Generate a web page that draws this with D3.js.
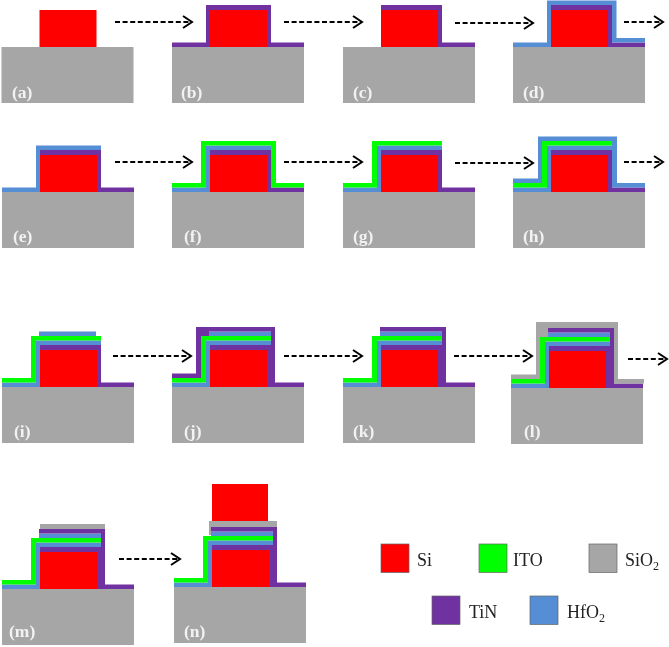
<!DOCTYPE html>
<meta charset="utf-8">
<head>
<style type='text/css'>
  html, body {
    margin: 0;
    background: #fff;
  }
  svg {
    display: block;
  }
  .panel-label {
    font-family: 'Liberation Serif';
    font-weight: bold;
    font-size: 17.5px;
    fill: #f2f2f2;
  }
  .legend-label {
    font-family: 'Liberation Serif';
    font-size: 18px;
    fill: #222;
  }
</style>
</head>
<body>
<div id="chart"></div>
<script src="https://d3js.org/d3.v7.min.js"></script>
<script>
// process steps, one entry per panel
var stepLabels = ["(a)", "(b)", "(c)", "(d)", "(e)", "(f)", "(g)", "(h)", "(i)", "(j)", "(k)", "(l)", "(m)", "(n)"];

// film outlines, [along the wafer, height above the wafer]
var substrate = [[-38, 0], [94, 0], [94, -56], [-38, -56]];
var pillar = [[0, 0], [57, 0], [57, 37], [0, 37]];
var tinConformal = [[-38, 0], [0, 0], [0, 37], [57, 37], [57, 0], [94, 0], [94, 4.5], [61, 4.5], [61, 42], [-4, 42], [-4, 4.5], [-38, 4.5]];
var tinLower = [[0, 37], [57, 37], [57, 0], [94, 0], [94, 4.5], [61, 4.5], [61, 42], [0, 42]];
var hfoConformal = [[-38, 0], [0, 0], [0, 42], [61, 42], [61, 4.5], [94, 4.5], [94, 9], [65.5, 9], [65.5, 46.5], [-4, 46.5], [-4, 4.5], [-38, 4.5]];
var hfoLower = [[-38, 0], [0, 0], [0, 42], [61, 42], [61, 46.5], [-4, 46.5], [-4, 4.5], [-38, 4.5]];
var itoConformal = [[-38, 4.5], [-4, 4.5], [-4, 46.5], [61, 46.5], [61, 4.5], [94, 4.5], [94, 9], [66, 9], [66, 51], [-9, 51], [-9, 9], [-38, 9]];
var itoEtched = [[-38, 4.5], [-4, 4.5], [-4, 46.5], [61, 46.5], [61, 51], [-9, 51], [-9, 9], [-38, 9]];
var hfoOverIto = [[-38, 9], [-9, 9], [-9, 51], [61, 51], [61, 4.5], [94, 4.5], [94, 9], [66, 9], [66, 55.5], [-13, 55.5], [-13, 13.5], [-38, 13.5]];
var hfoCapShort = [[-1, 51], [56, 51], [56, 55.5], [-1, 55.5]];
var hfoCap = [[-1, 51], [61, 51], [61, 55.5], [-1, 55.5]];
var tinOverHfo = [[-38, 9], [-9, 9], [-9, 51], [-1, 51], [-1, 55.5], [61, 55.5], [61, 0], [65, 0], [65, 60], [-14, 60], [-14, 13.5], [-38, 13.5]];
var tinUpper = [[-1, 55.5], [61, 55.5], [61, 0], [65, 0], [65, 60], [-1, 60]];
var sioConformal = [[-38, 9], [-9, 9], [-9, 51], [-1, 51], [-1, 60], [65, 60], [65, 4.5], [95, 4.5], [95, 9], [69, 9], [69, 66], [-13, 66], [-13, 13.5], [-38, 13.5]];
var sioCap = [[0, 60], [65, 60], [65, 65], [0, 65]];
var sioBond = [[-1, 52], [-1, 60], [65, 60], [65, 66], [-3, 66], [-3, 52]];
var pillarTop = [[0, 66], [56, 66], [56, 103], [0, 103]];

// materials and legend
var materials = ["Si", "ITO", "SiO2", "TiN", "HfO2"];
var materialColors = ["#ff0000", "#00ff00", "#a6a6a6", "#7030a0", "#558ed5"];

// which films are present at each step, bottom one first
var lowerStack = [[substrate, "SiO2"], [pillar, "Si"], [tinLower, "TiN"], [hfoLower, "HfO2"], [itoEtched, "ITO"]];
var stepFilms = [
  [[substrate, "SiO2"], [pillar, "Si"]],
  [[substrate, "SiO2"], [pillar, "Si"], [tinConformal, "TiN"]],
  [[substrate, "SiO2"], [pillar, "Si"], [tinLower, "TiN"]],
  [[substrate, "SiO2"], [pillar, "Si"], [tinLower, "TiN"], [hfoConformal, "HfO2"]],
  [[substrate, "SiO2"], [pillar, "Si"], [tinLower, "TiN"], [hfoLower, "HfO2"]],
  [[substrate, "SiO2"], [pillar, "Si"], [tinLower, "TiN"], [hfoLower, "HfO2"], [itoConformal, "ITO"]],
  lowerStack,
  lowerStack.concat([[hfoOverIto, "HfO2"]]),
  lowerStack.concat([[hfoCapShort, "HfO2"]]),
  lowerStack.concat([[hfoCap, "HfO2"], [tinOverHfo, "TiN"]]),
  lowerStack.concat([[hfoCap, "HfO2"], [tinUpper, "TiN"]]),
  lowerStack.concat([[hfoCap, "HfO2"], [tinUpper, "TiN"], [sioConformal, "SiO2"]]),
  lowerStack.concat([[hfoCap, "HfO2"], [tinUpper, "TiN"], [sioCap, "SiO2"]]),
  lowerStack.concat([[hfoCap, "HfO2"], [tinUpper, "TiN"], [sioBond, "SiO2"], [pillarTop, "Si"]])
];

// page layout
var width = 669,
    height = 647;

var panelLeft = [39.5, 210, 381, 551, 40, 210, 381, 551, 40, 210, 381, 549, 40, 212];
var panelBase = [47, 47, 47, 47, 192, 192, 192, 192, 387, 387, 387, 388, 589, 587];
var labelX = [12, 181, 353, 523, 13, 184, 353, 523, 14, 184, 353, 524, 9, 184];
var labelY = [98, 98, 98, 98, 242, 242, 242, 242, 437, 437, 437, 437, 637, 637];

var arrowX1 = [115, 284, 455, 624, 115, 284, 455, 624, 113, 284, 454, 628, 119];
var arrowX2 = [192, 362, 533, 663, 192, 362, 533, 663, 191, 362, 532, 667, 180];
var arrowY = [22, 22, 23, 22, 162, 162, 163, 162, 356, 356, 356, 359, 559];

var legendX = [381, 479, 589, 432, 530];
var legendY = [544, 544, 544, 596, 596];
var legendTextX = [417, 513, 625, 469, 567];

var color = d3.scaleOrdinal().domain(materials).range(materialColors);

// one pixel per unit, each panel is moved into place with a transform
var x = d3.scaleLinear().domain([0, 100]).range([0, 100]);
var y = d3.scaleLinear().domain([0, 100]).range([0, -100]);

var outline = d3.line()
    .x(function(d) { return x(d[0]); })
    .y(function(d) { return y(d[1]); })
    .curve(d3.curveLinearClosed);

var svg = d3.select("#chart").append("svg")
    .attr("width", width)
    .attr("height", height);

// the reference is a soft scan, take the edge off
svg.append("filter")
    .attr("id", "soft")
  .append("feGaussianBlur")
    .attr("stdDeviation", 0.35);

var root = svg.append("g").attr("filter", "url(#soft)");

var panels = root.append("g")
    .selectAll("g")
    .data(stepLabels)
    .enter().append("g")
      .attr("transform", function(d, i) { return "translate(" + panelLeft[i] + "," + panelBase[i] + ")"; });

panels.selectAll("path")
    .data(function(d, i) { return stepFilms[i]; })
    .enter().append("path")
      .attr("d", function(d) { return outline(d[0]); })
      .attr("fill", function(d) { return color(d[1]); });

root.append("g")
    .selectAll("text")
    .data(stepLabels)
    .enter().append("text")
      .attr("class", "panel-label")
      .attr("x", function(d, i) { return labelX[i]; })
      .attr("y", function(d, i) { return labelY[i]; })
      .text(function(d) { return d; });

// dashed arrows between the steps
var arrows = root.append("g")
    .selectAll("g")
    .data(arrowX1)
    .enter().append("g")
      .attr("fill", "none")
      .attr("stroke", "#000");

arrows.append("line")
    .attr("x1", function(d) { return d; })
    .attr("x2", function(d, i) { return arrowX2[i] - 1; })
    .attr("y1", function(d, i) { return arrowY[i]; })
    .attr("y2", function(d, i) { return arrowY[i]; })
    .attr("stroke-width", 2)
    .attr("stroke-dasharray", "5,2.6");

arrows.append("path")
    .attr("stroke-width", 2)
    .attr("d", function(d, i) {
      var tip = arrowX2[i], mid = arrowY[i];
      return "M" + (tip - 9) + "," + (mid - 6) + "L" + tip + "," + mid + "L" + (tip - 9) + "," + (mid + 6);
    });

// legend
var legend = root.append("g")
    .selectAll("g")
    .data(materials)
    .enter().append("g");

legend.append("rect")
    .attr("x", function(d, i) { return legendX[i]; })
    .attr("y", function(d, i) { return legendY[i]; })
    .attr("width", 28)
    .attr("height", 28.5)
    .attr("fill", color)
    .attr("stroke", "#666")
    .attr("stroke-width", 0.7);

var legendText = legend.append("text")
    .attr("class", "legend-label")
    .attr("x", function(d, i) { return legendTextX[i]; })
    .attr("y", function(d, i) { return legendY[i] + 21.5; });

legendText.append("tspan")
    .text(function(d) { return d.replace("2", ""); });

legendText.filter(function(d) { return d.indexOf("2") > -1; })
  .append("tspan")
    .attr("dy", 4)
    .attr("font-size", 12)
    .text("2");
</script>
</body>
